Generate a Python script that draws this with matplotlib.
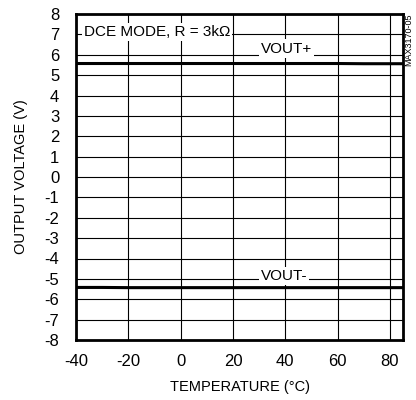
import matplotlib
matplotlib.use('Agg')
import matplotlib.pyplot as plt

plt.rcParams['font.family'] = ['Liberation Sans', 'DejaVu Sans']
plt.rcParams['axes.unicode_minus'] = False

# data
temp = [-40, -30, -20, -10, 0, 10, 20, 30, 40, 50, 60, 70, 85]
vout_pos = [5.57, 5.57, 5.57, 5.57, 5.57, 5.57, 5.57, 5.57, 5.57, 5.57, 5.57, 5.56, 5.56]
vout_neg = [-5.42, -5.42, -5.43, -5.43, -5.43, -5.43, -5.43, -5.43, -5.43, -5.43, -5.43, -5.43, -5.43]
xticks = [-40, -20, 0, 20, 40, 60, 80]
yticks = list(range(-8, 9))

fig = plt.figure(figsize=(4.16, 4.0), dpi=100)
ax = fig.add_axes([76/416, 60/400, 327/416, 326/400])

ax.plot(temp, vout_pos, color='black', lw=2.2)
ax.plot(temp, vout_neg, color='black', lw=2.2)

ax.set_xlim(-40, 85)
ax.set_ylim(-8, 8)
ax.set_xticks(xticks)
ax.set_yticks(yticks)
ax.grid(True, color='black', lw=0.8)
ax.tick_params(length=0, labelsize=12)
ax.tick_params(axis='y', pad=12)
ax.tick_params(axis='x', pad=10)
for s in ax.spines.values():
    s.set_linewidth(2)

ax.set_xlabel('TEMPERATURE (°C)', fontsize=10.5, labelpad=8)
ax.set_ylabel('OUTPUT VOLTAGE (V)', fontsize=10.5, labelpad=12)

box = dict(facecolor='white', edgecolor='none', pad=1.5)
ax.text(-37, 7.1, 'DCE MODE, R = 3k\u03a9', fontsize=11, va='center', ha='left', bbox=box)
ax.text(40.5, 6.3, 'VOUT+', fontsize=11, va='center', ha='center', bbox=box)
ax.text(39.5, -4.85, 'VOUT-', fontsize=11, va='center', ha='center', bbox=box)

fig.text(409/416, 1 - 40/400, 'MAX3170-05', rotation=90, fontsize=6.5, ha='center', va='center')

fig.savefig('out.png', dpi=100)
